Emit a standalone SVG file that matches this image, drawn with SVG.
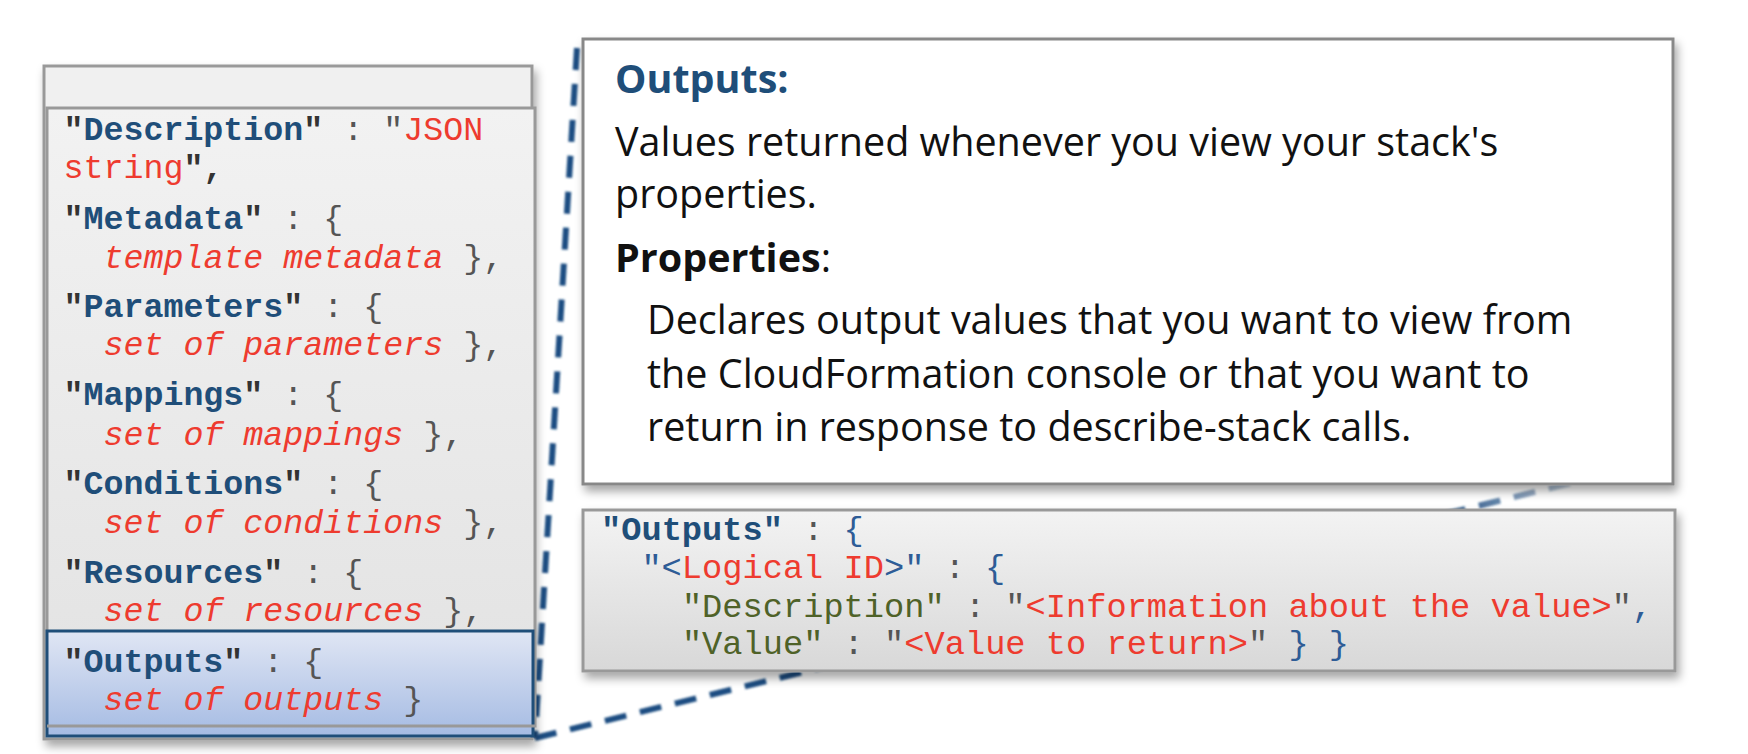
<svg xmlns="http://www.w3.org/2000/svg" width="1748" height="754" viewBox="0 0 1748 754">
<defs>
  <filter id="shadow" x="-5%" y="-5%" width="112%" height="115%">
    <feDropShadow dx="3" dy="6" stdDeviation="5" flood-color="#000" flood-opacity="0.35"/>
  </filter>
  <filter id="soft" x="-10%" y="-10%" width="120%" height="120%">
    <feGaussianBlur stdDeviation="0.9"/>
  </filter>
  <linearGradient id="grayFill" x1="0" y1="0" x2="0" y2="1">
    <stop offset="0" stop-color="#f2f2f2"/>
    <stop offset="1" stop-color="#e2e2e2"/>
  </linearGradient>
  <linearGradient id="codeFill" x1="0" y1="0" x2="0" y2="1">
    <stop offset="0" stop-color="#f3f3f3"/>
    <stop offset="1" stop-color="#d8d8d8"/>
  </linearGradient>
  <linearGradient id="blueFill" x1="0" y1="0" x2="0" y2="1">
    <stop offset="0" stop-color="#e0e6f4"/>
    <stop offset="1" stop-color="#a5bbe3"/>
  </linearGradient>
  <linearGradient id="fadeLine" gradientUnits="userSpaceOnUse" x1="535" y1="738" x2="1673" y2="458">
    <stop offset="0" stop-color="#1f4e82" stop-opacity="1"/>
    <stop offset="0.8" stop-color="#1f4e82" stop-opacity="1"/>
    <stop offset="0.95" stop-color="#1f4e82" stop-opacity="0"/>
  </linearGradient>
  <style>
    .mono { font-family: "Liberation Mono", "Courier New", monospace; font-size: 33.3px; }
    .code { font-family: "Liberation Mono", "Courier New", monospace; font-size: 33.7px; }
    .key { fill: #1f4e79; font-weight: bold; }
    .q { fill: #333333; font-weight: bold; }
    .p { fill: #555555; }
    .red { fill: #ee3b2f; }
    .it { fill: #ee3b2f; font-style: italic; }
    .blue { fill: #2e5c96; }
    .grn { fill: #4f6228; }
    .sans { font-family: "Open Sans", "Noto Sans", sans-serif; font-size: 39.5px; fill: #111111; }
    .dash { fill: none; stroke-width: 6; stroke-dasharray: 22 14; }
  </style>
</defs>

<g id="connectors">
  <line class="dash" x1="577" y1="48" x2="535" y2="738" stroke="#1f4e82" filter="url(#soft)"/>
  <line class="dash" x1="535" y1="738" x2="1673" y2="458" stroke="url(#fadeLine)" filter="url(#soft)"/>
</g>

<g id="template">
  <rect x="44" y="66" width="488" height="673" fill="#f0f0f0" stroke="#999999" stroke-width="3" filter="url(#shadow)"/>
  <rect x="47" y="108" width="488" height="618" fill="url(#grayFill)" stroke="#999999" stroke-width="3"/>
  <rect x="47" y="631" width="486" height="105" fill="url(#blueFill)" stroke="#1f4e79" stroke-width="3"/>
  <line x1="47" y1="726" x2="535" y2="726" stroke="#999999" stroke-width="3"/>
  <text class="mono" x="63.5" y="140"><tspan class="q">"</tspan><tspan class="key">Description</tspan><tspan class="q">"</tspan><tspan class="p"> : </tspan><tspan class="p">"</tspan><tspan class="red">JSON</tspan></text>
  <text class="mono" x="63.5" y="178"><tspan class="red">string</tspan><tspan class="q">",</tspan></text>
  <text class="mono" x="63.5" y="229"><tspan class="q">"</tspan><tspan class="key">Metadata</tspan><tspan class="q">"</tspan><tspan class="p"> : {</tspan></text>
  <text class="mono" x="103.5" y="268"><tspan class="it">template metadata</tspan><tspan class="p"> },</tspan></text>
  <text class="mono" x="63.5" y="317"><tspan class="q">"</tspan><tspan class="key">Parameters</tspan><tspan class="q">"</tspan><tspan class="p"> : {</tspan></text>
  <text class="mono" x="103.5" y="355"><tspan class="it">set of parameters</tspan><tspan class="p"> },</tspan></text>
  <text class="mono" x="63.5" y="405"><tspan class="q">"</tspan><tspan class="key">Mappings</tspan><tspan class="q">"</tspan><tspan class="p"> : {</tspan></text>
  <text class="mono" x="103.5" y="445"><tspan class="it">set of mappings</tspan><tspan class="p"> },</tspan></text>
  <text class="mono" x="63.5" y="494"><tspan class="q">"</tspan><tspan class="key">Conditions</tspan><tspan class="q">"</tspan><tspan class="p"> : {</tspan></text>
  <text class="mono" x="103.5" y="533"><tspan class="it">set of conditions</tspan><tspan class="p"> },</tspan></text>
  <text class="mono" x="63.5" y="583"><tspan class="q">"</tspan><tspan class="key">Resources</tspan><tspan class="q">"</tspan><tspan class="p"> : {</tspan></text>
  <text class="mono" x="103.5" y="621"><tspan class="it">set of resources</tspan><tspan class="p"> },</tspan></text>
  <text class="mono" x="63.5" y="672"><tspan class="q">"</tspan><tspan class="key">Outputs</tspan><tspan class="q">"</tspan><tspan class="p"> : {</tspan></text>
  <text class="mono" x="103.5" y="710"><tspan class="it">set of outputs</tspan><tspan class="p"> }</tspan></text>
</g>

<g id="description">
  <rect x="583" y="39" width="1090" height="445" fill="#ffffff" stroke="#888888" stroke-width="3" filter="url(#shadow)"/>
  <text class="sans" x="615" y="93" style="fill:#1f4e79;font-weight:bold">Outputs:</text>
  <text class="sans" x="615" y="156">Values returned whenever you view your stack's</text>
  <text class="sans" x="615" y="208">properties.</text>
  <text class="sans" x="615" y="272"><tspan font-weight="bold">Properties</tspan>:</text>
  <text class="sans" x="647" y="334">Declares output values that you want to view from</text>
  <text class="sans" x="647" y="388">the CloudFormation console or that you want to</text>
  <text class="sans" x="647" y="441">return in response to describe-stack calls.</text>
</g>

<g id="code">
  <rect x="583" y="510" width="1092" height="161" fill="url(#codeFill)" stroke="#999999" stroke-width="3" filter="url(#shadow)"/>
  <text class="code" x="601" y="540"><tspan class="key">"Outputs"</tspan><tspan class="p"> : </tspan><tspan class="blue">{</tspan></text>
  <text class="code" x="641.4" y="578"><tspan class="blue">"&lt;</tspan><tspan class="red">Logical ID</tspan><tspan class="blue">&gt;"</tspan><tspan class="p"> : </tspan><tspan class="blue">{</tspan></text>
  <text class="code" x="681.9" y="617"><tspan class="grn">"Description"</tspan><tspan class="p"> : "</tspan><tspan class="red">&lt;Information about the value&gt;</tspan><tspan class="p">"</tspan><tspan class="blue">,</tspan></text>
  <text class="code" x="681.9" y="654"><tspan class="grn">"Value"</tspan><tspan class="p"> : "</tspan><tspan class="red">&lt;Value to return&gt;</tspan><tspan class="p">"</tspan><tspan class="blue"> } }</tspan></text>
</g>
</svg>
